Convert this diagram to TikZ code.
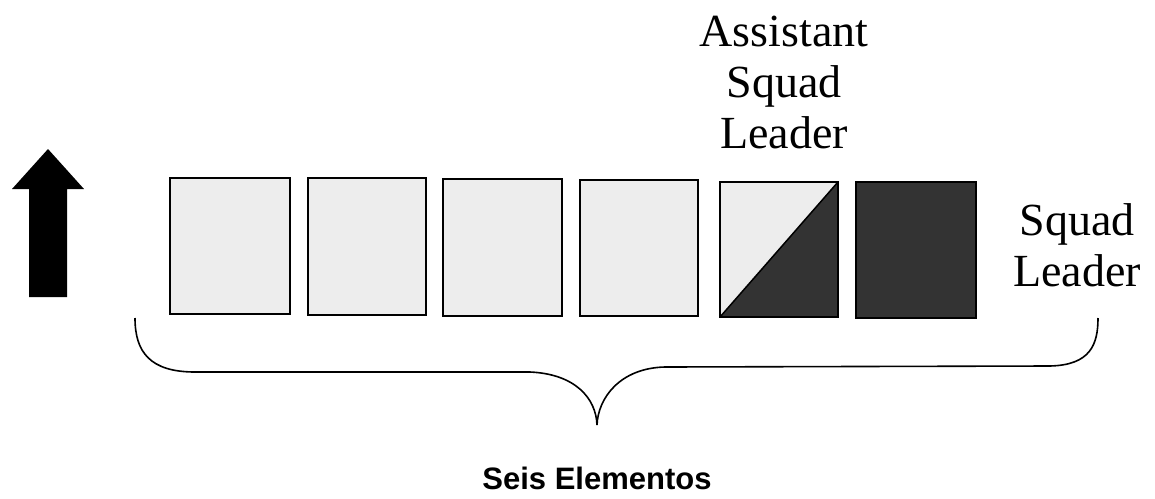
\documentclass[tikz,border=0pt]{standalone}
\usepackage{fontspec}
\setmainfont{Liberation Serif}
\newfontfamily\arialbold{Liberation Sans}[BoldFont={Liberation Sans Bold}]
\begin{document}
\begin{tikzpicture}[x=1pt,y=-1pt,
  member/.style={draw=black,line width=2pt,fill=gray!14},
  leaderbox/.style={draw=black,line width=2pt,fill=black!80},
  lbl/.style={font=\fontsize{46}{51}\selectfont,align=center,inner sep=0pt},
  bracestyle/.style={draw=black,line width=1.6pt}]
\useasboundingbox (0,0) rectangle (1155,498);
% arrow
\fill[black] (29,297) -- (29,189) -- (12,189) -- (48,149) -- (84,189) -- (67,189) -- (67,297) -- cycle;
% boxes
\path[member] (170,178) rectangle (290,314);
\path[member] (308,178) rectangle (426,315);
\path[member] (443,179) rectangle (562,316);
\path[member] (580,180) rectangle (698,316);
\fill[gray!14] (720,182) -- (838,182) -- (720,317) -- cycle;
\fill[black!80] (838,182) -- (838,317) -- (720,317) -- cycle;
\draw[black,line width=2pt] (720,182) rectangle (838,317);
\draw[black,line width=1.5pt] (720,317) -- (838,182);
\path[leaderbox] (856,182) rectangle (976,318);
% labels
\node[lbl,anchor=north] (asl) at (784,16) {Assistant\\Squad\\Leader};
\node[lbl,anchor=north] (sl) at (1077,203) {Squad\\Leader};
% brace
\coordinate (bl) at (135,318);
\coordinate (tip) at (597,425);
\coordinate (br) at (1098,318);
\draw[bracestyle] (bl) .. controls (135,352) and (150,372) .. (195,372)
  -- (530,372) .. controls (575,374) and (596,398) .. (tip)
  .. controls (598,398) and (620,368) .. (665,367)
  -- (1050,366) .. controls (1090,365) and (1098,345) .. (br);
\node[font=\arialbold\bfseries\fontsize{31}{36}\selectfont,anchor=base] (se) at (597,489) {Seis Elementos};
\end{tikzpicture}
\end{document}
